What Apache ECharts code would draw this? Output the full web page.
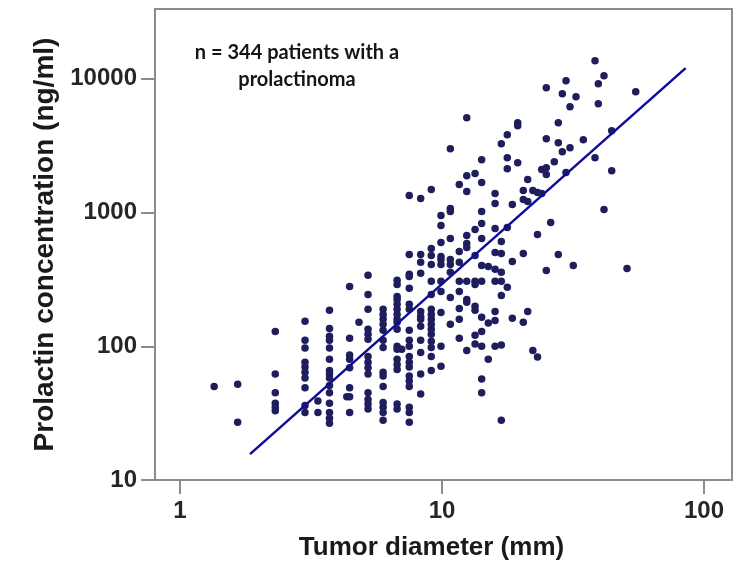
<!DOCTYPE html>
<html>
<head>
<meta charset="utf-8">
<script src="https://cdn.jsdelivr.net/npm/echarts@6.0.0/dist/echarts.min.js"></script>
<style>
  html, body { margin: 0; padding: 0; background: #fff; }
  #main { width: 745px; height: 566px; }
</style>
</head>
<body>
<div id="main"></div>
<script>
// tumour diameter (mm), one entry per vertical column of dots
var diameterCols = [1.35, 1.66, 2.31, 3.0, 3.36, 3.72, 4.33, 4.44, 4.82, 5.22,
  5.96, 6.74, 7.02, 7.5, 8.29, 9.1, 9.91, 10.76, 11.64, 12.43,
  13.37, 14.17, 15.02, 15.94, 16.84, 17.75, 18.55, 19.45, 20.43, 21.24,
  22.22, 23.15, 24.02, 25.01, 25.99, 26.83, 27.79, 28.79, 29.74, 30.8,
  31.7, 32.47, 34.62, 38.37, 39.5, 41.52, 44.44, 50.83, 54.87];

// prolactin (ng/ml) for the dots in each column
var prolactinCols = [
  [50],
  [52, 27],
  [129, 62, 45, 37.5, 35, 33],
  [154, 111, 97, 76, 70, 64, 58, 49, 36, 32],
  [39, 32],
  [186, 136, 119, 111, 97, 80, 66, 62, 58, 51, 45, 37.5, 32, 29, 26.6],
  [42],
  [280, 115, 86, 80, 69, 49, 42, 32],
  [151],
  [339, 244, 189, 134, 123, 113, 84, 76, 69, 62, 45, 40, 37, 34],
  [189, 173, 159, 146, 132, 111, 98, 64, 60, 50, 38, 35, 32, 28],
  [311, 290, 236, 224, 206, 189, 173, 159, 151, 134, 100, 95, 80, 73, 67, 37, 34],
  [95],
  [1339, 486, 345, 333, 271, 206, 189, 132, 111, 100, 84, 76, 70, 60, 55, 50, 35, 32, 27],
  [1272, 486, 424, 351, 182, 167, 159, 141, 111, 90, 62, 44],
  [1485, 539, 478, 409, 306, 244, 189, 173, 159, 146, 134, 123, 109, 98, 84, 66],
  [950, 800, 598, 470, 446, 409, 306, 257, 179, 100, 71],
  [3004, 1071, 1017, 640, 446, 409, 357, 232, 146],
  [1618, 512, 424, 306, 257, 192, 159, 115],
  [5116, 1888, 1435, 674, 587, 548, 306, 224, 213, 93],
  [1955, 747, 478, 306, 290, 199, 186, 121, 104],
  [2486, 1675, 1017, 828, 640, 402, 306, 165, 129, 100, 57, 45],
  [395, 149, 80],
  [1387, 1167, 760, 503, 376, 306, 182, 156, 100],
  [3274, 608, 495, 357, 306, 240, 102, 28],
  [3820, 2573, 2130, 773, 276],
  [1147, 431, 162],
  [4695, 4460, 2361],
  [1460, 1250, 495, 151],
  [1763, 1208, 182],
  [1460, 93],
  [1411, 686, 83],
  [2094, 1387],
  [8567, 3567, 2167, 1922, 369],
  [843],
  [2402],
  [4695, 3330, 486],
  [7729, 2853],
  [9662, 1989],
  [6181, 3056],
  [402],
  [7339],
  [3506],
  [13624, 2573],
  [9177, 6509],
  [10527, 1053],
  [4093, 2058],
  [382],
  [7999]
];

// fitted regression line end points
var fitLine = [[1.85, 15.6], [85.1, 12020]];

var xTicks = [1, 10, 100];
var yTicks = [10, 100, 1000, 10000];

var points = [];
for (var i = 0; i < diameterCols.length; i++) {
  for (var j = 0; j < prolactinCols[i].length; j++) {
    points.push([diameterCols[i], prolactinCols[i][j]]);
  }
}

var AXIS_GRAY = '#8c8c8c';
var labelFont = {
  fontFamily: 'Liberation Sans',
  fontWeight: 'bold',
  fontSize: 24,
  color: '#262626',
  formatter: function (v) { return String(Math.round(v)); }
};

var chart = echarts.init(document.getElementById('main'));
var option = {
  animation: false,
  backgroundColor: '#fff',
  grid: {
    left: 155, right: 13, top: 9, bottom: 85,
    show: true,
    borderColor: AXIS_GRAY,
    borderWidth: 2
  },
  xAxis: {
    type: 'log',
    logBase: 10,
    min: 0.8027,
    max: 127.9,
    name: 'Tumor diameter (mm)',
    nameLocation: 'middle',
    nameGap: 55,
    nameTextStyle: {
      fontFamily: 'Liberation Sans',
      fontWeight: 'bold',
      fontSize: 26,
      color: '#1a1a1a',
      padding: [0, 24, 0, 0]
    },
    axisLine: { show: true, lineStyle: { color: AXIS_GRAY, width: 2 } },
    axisTick: { show: true, length: 14, customValues: xTicks, lineStyle: { color: AXIS_GRAY, width: 2 } },
    axisLabel: Object.assign({ customValues: xTicks, margin: 19 }, labelFont),
    splitLine: { show: false }
  },
  yAxis: {
    type: 'log',
    logBase: 10,
    min: 10,
    max: 33270,
    name: 'Prolactin concentration (ng/ml)',
    nameLocation: 'middle',
    nameGap: 93,
    nameTextStyle: {
      fontFamily: 'Liberation Sans',
      fontWeight: 'bold',
      fontSize: 28,
      color: '#1a1a1a'
    },
    axisLine: { show: true, lineStyle: { color: AXIS_GRAY, width: 2 } },
    axisTick: { show: true, length: 14, customValues: yTicks, lineStyle: { color: AXIS_GRAY, width: 2 } },
    axisLabel: Object.assign({ customValues: yTicks, margin: 18 }, labelFont),
    splitLine: { show: false }
  },
  graphic: [{
    type: 'text',
    x: 297,
    y: 39,
    style: {
      text: 'n = 344 patients with a\nprolactinoma',
      font: 'bold 20px Lato',
      fill: '#151515',
      align: 'center',
      lineHeight: 27
    }
  }],
  series: [
    {
      type: 'scatter',
      data: points,
      symbolSize: 7.5,
      itemStyle: { color: '#1e1e5c', opacity: 1 }
    },
    {
      type: 'line',
      data: fitLine,
      showSymbol: false,
      lineStyle: { color: '#0c0c99', width: 2.5 }
    }
  ]
};
chart.setOption(option);
</script>
</body>
</html>
